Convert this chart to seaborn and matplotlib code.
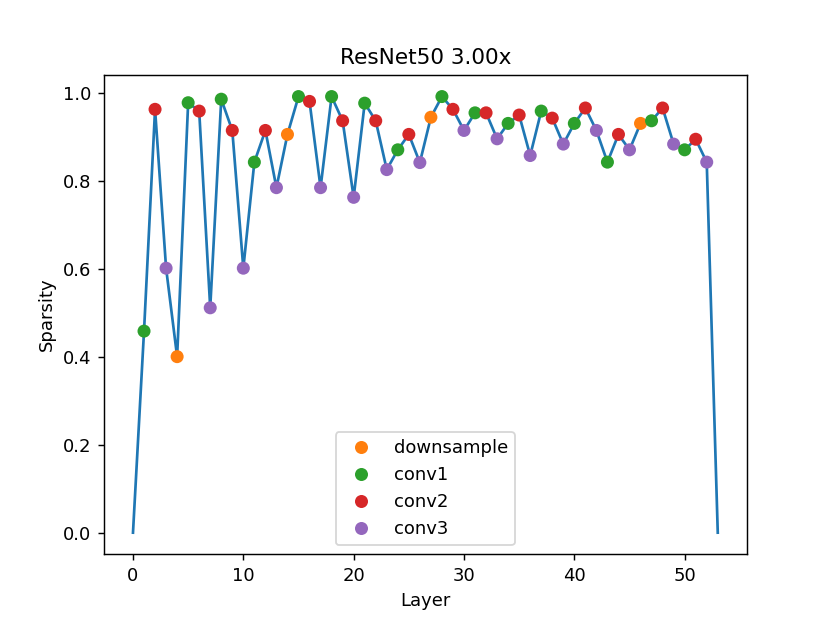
import matplotlib
matplotlib.use("Agg")
import matplotlib.pyplot as plt
import seaborn as sns
import pandas as pd

layers = list(range(54))
sparsity = [0.0,
            0.458, 0.962, 0.601, 0.400,
            0.977, 0.958, 0.511,
            0.985, 0.914, 0.601,
            0.842, 0.914, 0.784, 0.905,
            0.991, 0.980, 0.784,
            0.991, 0.936, 0.762,
            0.976, 0.936, 0.825,
            0.870, 0.905, 0.841, 0.944,
            0.991, 0.962, 0.914,
            0.954, 0.954, 0.895,
            0.930, 0.949, 0.857,
            0.958, 0.942, 0.883,
            0.930, 0.965, 0.914,
            0.842, 0.905, 0.870, 0.930,
            0.936, 0.965, 0.883,
            0.870, 0.894, 0.842,
            0.0]
kinds = ["conv"] + \
        ["conv1", "conv2", "conv3", "downsample"] + ["conv1", "conv2", "conv3"] * 2 + \
        ["conv1", "conv2", "conv3", "downsample"] + ["conv1", "conv2", "conv3"] * 3 + \
        ["conv1", "conv2", "conv3", "downsample"] + ["conv1", "conv2", "conv3"] * 5 + \
        ["conv1", "conv2", "conv3", "downsample"] + ["conv1", "conv2", "conv3"] * 2 + \
        ["fc"]
kind_order = ["downsample", "conv1", "conv2", "conv3"]
kind_colors = {"downsample": "#ff7f0e", "conv1": "#2ca02c", "conv2": "#d62728", "conv3": "#9467bd"}

df = pd.DataFrame({"layer": layers, "sparsity": sparsity, "kind": kinds})
pts = df[df["kind"].isin(kind_order)]

fig, ax = plt.subplots(figsize=(830 / 130, 623 / 130), dpi=130)
sns.lineplot(data=df, x="layer", y="sparsity", color="#1f77b4", linewidth=1.5, ax=ax, zorder=1)
sns.scatterplot(data=pts, x="layer", y="sparsity", hue="kind", hue_order=kind_order,
                palette=kind_colors, s=52, linewidth=0, ax=ax, zorder=2)
handles, labels = ax.get_legend_handles_labels()
ax.legend(handles, labels, loc="lower center")
ax.set_title("ResNet50 3.00x")
ax.set_xlabel("Layer")
ax.set_ylabel("Sparsity")
fig.savefig("out.png", dpi=130)
